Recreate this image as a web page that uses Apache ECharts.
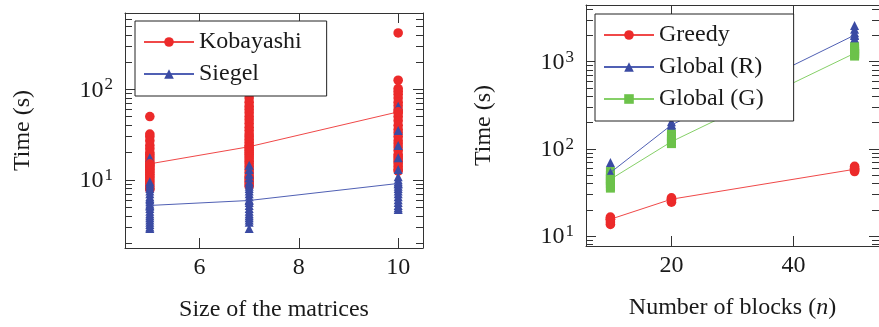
<!DOCTYPE html>
<html>
<head>
<meta charset="utf-8">
<script src="https://cdn.jsdelivr.net/npm/echarts@6/dist/echarts.min.js"></script>
<style>
html,body{margin:0;padding:0;background:#fff;}
#chart{width:879px;height:327px;}
</style>
</head>
<body>
<div id="chart"></div>
<script>
// ---------- data (left panel) ----------
const matrixSizes = [5, 7, 10];
const kobayashiAt5 = [50, 32, 30, 27, 24, 22, 20, 19, 18, 17, 16, 15, 14.5, 14, 13.5, 13, 12.5, 12, 11.5, 11, 10.5, 10, 9.5, 9, 8.5, 8, 7.8];
const kobayashiAt7 = [150, 110, 88, 80, 72, 65, 60, 55, 50, 46, 42, 38, 35, 32, 30, 28, 26, 24, 22, 21, 20, 19, 18, 17, 16, 15, 14, 13, 12, 11, 10.5, 10, 9.5, 9, 8.5];
const kobayashiAt10 = [420, 126, 102, 95, 88, 80, 72, 66, 60, 55, 50, 45, 40, 36, 33, 30, 27, 25, 23, 21, 19, 18, 17, 16, 15, 14, 13, 12.5];
const kobayashiLine = [15.0, 23.2, 56.3];
const siegelAt5 = [17.5, 9.5, 9, 8.5, 8, 7.5, 7, 6.5, 6.2, 6, 5.7, 5.4, 5.1, 4.8, 4.5, 4.2, 4, 3.8, 3.6, 3.4, 3.2, 3.0, 2.9];
const siegelAt7 = [14.5, 13, 11.5, 10.5, 9.5, 9, 8.5, 8, 7.5, 7, 6.5, 6, 5.6, 5.2, 4.8, 4.5, 4.2, 4, 3.8, 3.6, 3.4, 2.9];
const siegelAt10 = [65, 35, 24, 17.5, 13, 10.8, 10, 9.5, 9, 8.5, 8, 7.5, 7, 6.5, 6, 5.6, 5.2, 4.9, 4.7];
const siegelLine = [5.2, 5.9, 9.1];

// ---------- data (right panel) ----------
const blockCounts = [10, 20, 50];
const greedyAt10 = [16.5, 15.5, 14.5, 13.6];
const greedyAt20 = [27.5, 26, 24.5];
const greedyAt50 = [63, 60, 57, 55];
const greedyLine = [15.6, 26.5, 58.4];
const globalRAt10 = [70, 62, 57, 53, 51];
const globalRAt20 = [205, 190, 180, 170, 160];
const globalRAt50 = [2600, 2350, 2150, 2000, 1850, 1750];
const globalRLine = [53.5, 188, 2020];
const globalGAt10 = [55, 50, 46, 43, 40, 37, 35.5];
const globalGAt20 = [148, 138, 128, 120, 115];
const globalGAt50 = [1480, 1400, 1320, 1250, 1200, 1160];
const globalGLine = [44.8, 121, 1250];

// ---------- ticks ----------
const leftXTicks = [6, 8, 10];
const rightXTicks = [20, 40];
const leftYTicks = [10, 100];
const rightYTicks = [10, 100, 1000];
const leftYMinor = [2, 3, 4, 5, 6, 7, 8, 9, 20, 30, 40, 50, 60, 70, 80, 90, 200, 300, 400, 500, 600];
const rightYMinor = [8, 9, 20, 30, 40, 50, 60, 70, 80, 90, 200, 300, 400, 500, 600, 700, 800, 900, 2000, 3000, 4000];

const FONT = 'Liberation Serif';
const INK = '#1a1a1a';
const AX = '#333333';
const RED = '#ec2a2a', BLUE = '#3b4ba3', GREEN = '#6cc24a';
const RED_L = '#f04848', BLUE_L = '#5060b4', GREEN_L = '#86d068';

function pairs(x, ys) { return ys.map(v => [x, v]); }
function groups(xs, arrs) { let out = []; xs.forEach((x, i) => { out = out.concat(pairs(x, arrs[i])); }); return out; }
function zip(xs, ys) { return xs.map((x, i) => [x, ys[i]]); }

function powLabel(v) {
  const e = Math.round(Math.log10(v));
  return '{b|10}{s|' + e + '}';
}
const richLab = {
  b: { fontFamily: FONT, fontSize: 24, color: INK, lineHeight: 26, verticalAlign: 'bottom' },
  s: { fontFamily: FONT, fontSize: 17, color: INK, lineHeight: 26, verticalAlign: 'top', padding: [0, 0, 0, 1] }
};
const nameStyle = { fontFamily: FONT, fontSize: 24, color: INK,
  rich: { i: { fontFamily: FONT, fontSize: 24, color: INK, fontStyle: 'italic' } } };

function xPair(gridIndex, min, max, ticks, name) {
  return [
    { type: 'value', gridIndex, position: 'bottom', min, max,
      axisLine: { show: true, lineStyle: { color: AX, width: 1 } },
      axisTick: { show: true, inside: true, length: 10, customValues: ticks, lineStyle: { color: AX, width: 1 } },
      axisLabel: { show: true, customValues: ticks, margin: 8, fontFamily: FONT, fontSize: 24, color: INK },
      splitLine: { show: false },
      name, nameLocation: 'middle', nameGap: 50,
      nameTextStyle: nameStyle },
    { type: 'value', gridIndex, position: 'top', min, max,
      axisLine: { show: true, lineStyle: { color: AX, width: 1 } },
      axisTick: { show: true, inside: true, length: 10, customValues: ticks, lineStyle: { color: AX, width: 1 } },
      axisLabel: { show: false }, splitLine: { show: false } }
  ];
}
function yQuad(gridIndex, min, max, ticks, minor, name, nameGap) {
  const base = { type: 'log', logBase: 10, gridIndex, min, max, splitLine: { show: false } };
  return [
    Object.assign({}, base, { position: 'left',
      axisLine: { show: true, lineStyle: { color: AX, width: 1 } },
      axisTick: { show: true, inside: true, length: 10, customValues: ticks, lineStyle: { color: AX, width: 1 } },
      axisLabel: { show: true, customValues: ticks, margin: 12, formatter: powLabel, rich: richLab },
      name, nameLocation: 'middle', nameGap,
      nameTextStyle: nameStyle }),
    Object.assign({}, base, { position: 'left',
      axisLine: { show: false },
      axisTick: { show: true, inside: true, length: 7, customValues: minor, lineStyle: { color: AX, width: 1 } },
      axisLabel: { show: false } }),
    Object.assign({}, base, { position: 'right',
      axisLine: { show: true, lineStyle: { color: AX, width: 1 } },
      axisTick: { show: true, inside: true, length: 10, customValues: ticks, lineStyle: { color: AX, width: 1 } },
      axisLabel: { show: false } }),
    Object.assign({}, base, { position: 'right',
      axisLine: { show: false },
      axisTick: { show: true, inside: true, length: 7, customValues: minor, lineStyle: { color: AX, width: 1 } },
      axisLabel: { show: false } })
  ];
}

function lineSeries(name, xi, yi, data, color, lcolor, symbol, size) {
  return { type: 'line', name, xAxisIndex: xi, yAxisIndex: yi, data,
    symbol, symbolSize: size, showSymbol: true,
    itemStyle: { color }, lineStyle: { color: lcolor, width: 1 },
    emphasis: { disabled: true }, z: 3 };
}
function scatterSeries(name, xi, yi, data, color, symbol, size) {
  return { type: 'scatter', name, xAxisIndex: xi, yAxisIndex: yi, data,
    symbol, symbolSize: size, itemStyle: { color, opacity: 1 },
    emphasis: { disabled: true }, z: 2 };
}

function legendCfg(names, left, top, padRight) {
  return { data: names, orient: 'vertical', left, top,
    itemWidth: 50, itemHeight: 12, itemGap: 8,
    padding: [9, padRight, 10, 8],
    backgroundColor: '#ffffff', borderColor: '#222', borderWidth: 1, borderRadius: 0,
    textStyle: { fontFamily: FONT, fontSize: 24, color: INK, lineHeight: 24 },
    selectedMode: false, z: 10 };
}

const option = {
  animation: false,
  backgroundColor: '#ffffff',
  grid: [
    { left: 125, top: 13, width: 298, height: 240 },
    { left: 586, top: 5, width: 298, height: 241 }
  ],
  xAxis: [].concat(
    xPair(0, 4.5, 10.5, leftXTicks, 'Size of the matrices'),
    xPair(1, 6, 54, rightXTicks, 'Number of blocks ({i|n})')
  ),
  yAxis: [].concat(
    yQuad(0, 1.76, 698, leftYTicks, leftYMinor, 'Time (s)', 90),
    yQuad(1, 7.7, 4470, rightYTicks, rightYMinor, 'Time (s)', 90)
  ),
  legend: [
    legendCfg(['Kobayashi', 'Siegel'], 135, 21, 25),
    legendCfg(['Greedy', 'Global (R)', 'Global (G)'], 595, 14, 30)
  ],
  series: [
    scatterSeries('Kobayashi pts', 0, 0, groups(matrixSizes, [kobayashiAt5, kobayashiAt7, kobayashiAt10]), RED, 'circle', 9.6),
    lineSeries('Kobayashi', 0, 0, zip(matrixSizes, kobayashiLine), RED, RED_L, 'circle', 9.6),
    scatterSeries('Siegel pts', 0, 0, groups(matrixSizes, [siegelAt5, siegelAt7, siegelAt10]), BLUE, 'triangle', 9),
    lineSeries('Siegel', 0, 0, zip(matrixSizes, siegelLine), BLUE, BLUE_L, 'triangle', 9),

    scatterSeries('Greedy pts', 2, 4, groups(blockCounts, [greedyAt10, greedyAt20, greedyAt50]), RED, 'circle', 9.6),
    lineSeries('Greedy', 2, 4, zip(blockCounts, greedyLine), RED, RED_L, 'circle', 9.6),
    scatterSeries('Global (R) pts', 2, 4, groups(blockCounts, [globalRAt10, globalRAt20, globalRAt50]), BLUE, 'triangle', 9),
    lineSeries('Global (R)', 2, 4, zip(blockCounts, globalRLine), BLUE, BLUE_L, 'triangle', 9),
    scatterSeries('Global (G) pts', 2, 4, groups(blockCounts, [globalGAt10, globalGAt20, globalGAt50]), GREEN, 'rect', 9),
    lineSeries('Global (G)', 2, 4, zip(blockCounts, globalGLine), GREEN, GREEN_L, 'rect', 9)
  ]
};

const chart = echarts.init(document.getElementById('chart'), null, { renderer: 'canvas' });
chart.setOption(option);
</script>
</body>
</html>
